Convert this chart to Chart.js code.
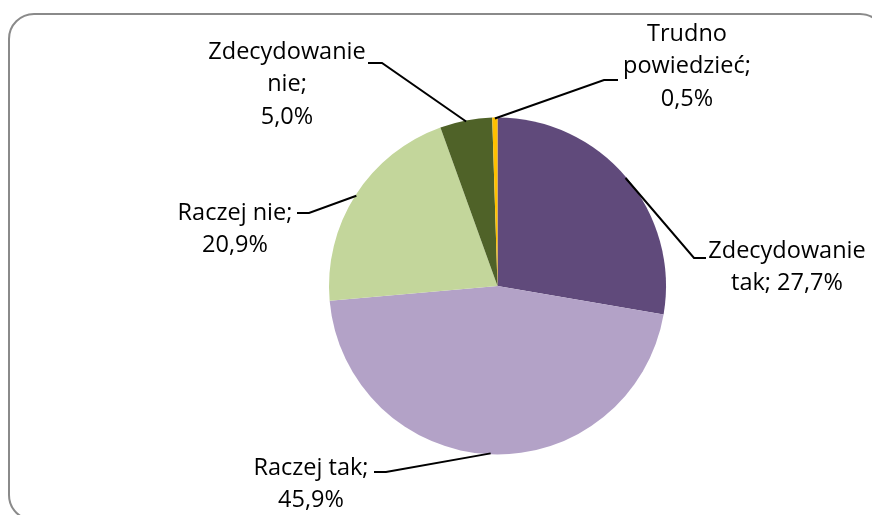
<!DOCTYPE html>
<html>
<head>
<meta charset="utf-8">
<script src="https://cdn.jsdelivr.net/npm/chart.js@4.4.0/dist/chart.umd.min.js"></script>
<style>
  html, body { margin:0; padding:0; background:#fff; overflow:hidden; }
  #wrap { position:relative; width:872px; height:515px; overflow:hidden; }
  #frame { position:absolute; left:8px; top:13px; width:874px; height:504px;
           border:2px solid #8a8a8a; border-radius:26px; }
  #pie { position:absolute; left:0; top:0; }
</style>
</head>
<body>
<div id="wrap">
  <div id="frame"></div>
  <canvas id="pie" width="872" height="515"></canvas>
</div>
<script>
// data (clockwise from 12 o'clock)
const CATEGORIES = ['Zdecydowanie tak', 'Raczej tak', 'Raczej nie', 'Zdecydowanie nie', 'Trudno powiedzieć'];
const VALUES = [27.7, 45.9, 20.9, 5.0, 0.5];
const COLORS = ['#604A7B', '#B3A2C7', '#C3D69B', '#4F6228', '#FFC000'];

// label layout: text lines, text centre, elbow of leader line, end of leader line
const LABELS = [
  { lines: ['Zdecydowanie', 'tak; {v}'], cx: 787, cy: 251, elbow: [694, 258], end: [706, 258] },
  { lines: ['Raczej tak;', '{v}'], cx: 311, cy: 468, elbow: [386, 472], end: [374, 472] },
  { lines: ['Raczej nie;', '{v}'], cx: 235, cy: 213, elbow: [309, 213], end: [297, 213] },
  { lines: ['Zdecydowanie', 'nie;', '{v}'], cx: 287, cy: 52, elbow: [382, 63], end: [368, 63] },
  { lines: ['Trudno', 'powiedzieć;', '{v}'], cx: 687, cy: 34, elbow: [604, 80], end: [618, 80] }
];
const LINE_H = 32.5;

function fmtPct(v){ return v.toFixed(1).replace('.', ',') + '%'; }

const labelPlugin = {
  id: 'pieLabels',
  afterDraw(chart) {
    const ctx = chart.ctx;
    const arcs = chart.getDatasetMeta(0).data;
    ctx.save();
    arcs.forEach((arc, i) => {
      const p = arc.getProps(['x','y','startAngle','endAngle','outerRadius'], true);
      const mid = (p.startAngle + p.endAngle) / 2;
      const ax = p.x + Math.cos(mid) * (p.outerRadius - 1);
      const ay = p.y + Math.sin(mid) * (p.outerRadius - 1);
      const L = LABELS[i];
      ctx.strokeStyle = '#000';
      ctx.lineWidth = 2;
      ctx.beginPath();
      ctx.moveTo(ax, ay);
      ctx.lineTo(L.elbow[0], L.elbow[1]);
      ctx.lineTo(L.end[0], L.end[1]);
      ctx.stroke();

      ctx.fillStyle = '#000';
      ctx.font = '23.5px "Open Sans", sans-serif';
      ctx.textAlign = 'center';
      ctx.textBaseline = 'middle';
      L.lines.forEach((t, k) => {
        ctx.fillText(t.replace('{v}', fmtPct(VALUES[i])), L.cx, L.cy + k * LINE_H);
      });
    });
    ctx.restore();
  }
};

new Chart(document.getElementById('pie'), {
  type: 'pie',
  data: {
    labels: CATEGORIES,
    datasets: [{ data: VALUES, backgroundColor: COLORS, borderWidth: 0 }]
  },
  options: {
    responsive: false,
    animation: false,
    layout: { padding: { left: 329, right: 206, top: 117, bottom: 60 } },
    plugins: { legend: { display: false }, tooltip: { enabled: false } }
  },
  plugins: [labelPlugin]
});
</script>
</body>
</html>
